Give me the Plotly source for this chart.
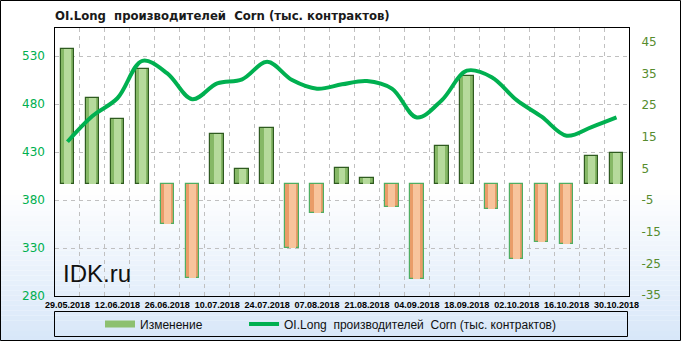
import plotly.graph_objects as go
import numpy as np

dates = ['29.05.2018', '05.06.2018', '12.06.2018', '19.06.2018', '26.06.2018', '03.07.2018',
         '10.07.2018', '17.07.2018', '24.07.2018', '31.07.2018', '07.08.2018', '14.08.2018',
         '21.08.2018', '28.08.2018', '04.09.2018', '11.09.2018', '18.09.2018', '25.09.2018',
         '02.10.2018', '09.10.2018', '16.10.2018', '23.10.2018', '30.10.2018']
change = [42.8, 27.2, 20.6, 36.4, -12.6, -29.7, 15.8, 4.7, 17.7, -20.0, -9.2, 5.1,
          1.9, -7.3, -30.0, 12.2, 34.2, -7.9, -23.6, -18.2, -18.9, 9.0, 9.8]
oi_long = [440.7, 467.5, 486.0, 525.0, 512.0, 485.0, 501.5, 505.7, 524.0, 505.0, 496.0, 500.5,
           504.0, 496.0, 466.0, 484.0, 514.7, 508.0, 484.0, 466.8, 447.0, 456.0, 466.0]
left_ticks = [280, 330, 380, 430, 480, 530]
right_ticks = [-35, -25, -15, -5, 5, 15, 25, 35, 45]
right_tick_text = [str(v) for v in right_ticks]

title_text = 'OI.Long\u00a0\u00a0производителей\u00a0\u00a0Corn (тыс. контрактов)'
bar_name = 'Изменение'
line_name = 'OI.Long\u00a0\u00a0производителей\u00a0\u00a0Corn (тыс. контрактов)'

x = np.arange(len(dates))
W, H = 681, 341
L, R, T, B = 55, 52, 28, 45
pw, ph = W - L - R, H - T - B


def px(v):
    return (v - L) / pw


def py(v):
    return (H - B - v) / ph


pos = [c >= 0 for c in change]
outer_col = ['#86B866' if p else '#E99C68' for p in pos]
outer_line = ['#2F5B20' if p else '#4FAE62' for p in pos]
inner_col = ['#B6DA9C' if p else '#F8C49C' for p in pos]

fig = go.Figure()
fig.add_trace(go.Bar(x=x, y=change, width=0.54, marker=dict(color=outer_col, line=dict(color=outer_line, width=1.2)),
                     showlegend=False, yaxis='y'))
fig.add_trace(go.Bar(x=x, y=change, width=0.28, marker=dict(color=inner_col, line=dict(width=0)),
                     showlegend=False, yaxis='y'))
# legend entry for bars
fig.add_trace(go.Scatter(x=[None], y=[None], mode='lines', name=bar_name + '\u00a0' * 11,
                         line=dict(color='#8DC070', width=7), yaxis='y'))
fig.add_trace(go.Scatter(x=x, y=oi_long, mode='lines', name=line_name,
                         line=dict(color='#00B050', width=4, shape='spline', smoothing=1.0),
                         yaxis='y2'))

shapes = []
# background gradient
top_g, bot_g = 190, H
n = 30
c0 = np.array([255, 255, 255])
c1 = np.array([216, 231, 249])
for i in range(n):
    y0 = top_g + (bot_g - top_g) * i / n
    y1 = top_g + (bot_g - top_g) * (i + 1) / n
    c = c0 + (c1 - c0) * (i + 0.5) / n
    shapes.append(dict(type='rect', xref='paper', yref='paper', x0=px(0), x1=px(W),
                       y0=py(y1), y1=py(y0), fillcolor='rgb(%d,%d,%d)' % tuple(c.astype(int)),
                       line=dict(width=0), layer='below'))
# legend box
shapes.append(dict(type='rect', xref='paper', yref='paper', x0=px(54.5), x1=px(627.5),
                   y0=py(336.5), y1=py(311.5), line=dict(color='#000000', width=1), layer='below'))
# outer border
shapes.append(dict(type='rect', xref='paper', yref='paper', x0=px(0.5), x1=px(680.5),
                   y0=py(340.5), y1=py(0.5), line=dict(color='#000000', width=1), layer='above'))

fig.update_layout(
    width=W, height=H,
    margin=dict(l=L, r=R, t=T, b=B, autoexpand=False),
    paper_bgcolor='white', plot_bgcolor='rgba(0,0,0,0)',
    barmode='overlay', bargap=0,
    shapes=shapes,
    title=dict(text=title_text, x=px(55), xref='paper', xanchor='left', y=1 - 15 / H, yanchor='middle',
               font=dict(family='DejaVu Sans Condensed', size=13, color='#1a1a1a', weight='bold')),
    xaxis=dict(range=[-0.5, len(dates) - 0.5], tickvals=list(x[::2]), ticktext=dates[::2],
               showgrid=False, zeroline=False, showline=True, linecolor='black', linewidth=1, mirror=True,
               ticks='', ticklabelstandoff=0,
               tickfont=dict(family='Liberation Sans', size=9, color='black', weight='bold'),
               minor=dict(tickvals=list(x[:-1] + 0.5), showgrid=True, gridcolor='#c0c0c0',
                          griddash='4px,4px', gridwidth=1)),
    yaxis=dict(range=[-35.3, 49.4], side='right', tickvals=right_ticks, ticktext=right_tick_text,
               showgrid=False, zeroline=False,
               showline=True, linecolor='black', linewidth=1, mirror=True, ticks='', ticklabelstandoff=9,
               tickfont=dict(family='DejaVu Sans', size=12, color='#568C2E')),
    yaxis2=dict(range=[280, 559.2], side='left', overlaying='y', tickvals=left_ticks, showgrid=True,
                gridcolor='#c0c0c0', griddash='4px,4px', gridwidth=1, zeroline=False, ticks='',
                ticklabelstandoff=9, tickfont=dict(family='DejaVu Sans', size=12, color='#00B050')),
    legend=dict(orientation='h', x=px(100), xanchor='left', y=py(324), yanchor='middle',
                bgcolor='rgba(0,0,0,0)', borderwidth=0,
                font=dict(family='Liberation Sans', size=12, color='#111111'), traceorder='normal'),
    annotations=[dict(text='IDK.ru', xref='paper', yref='paper', x=px(61), y=py(273.5), xanchor='left',
                      yanchor='middle', showarrow=False,
                      font=dict(family='Liberation Sans', size=24, color='#111111'))],
)

fig.write_html('out.html')
